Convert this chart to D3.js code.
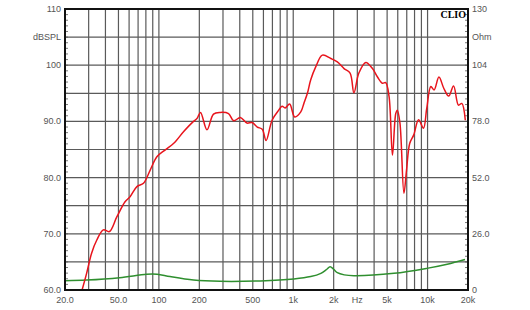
<!DOCTYPE html>
<html lang="en">
<head>
    <meta charset="UTF-8">
    <title>CLIO SPL / Impedance</title>
    <script src="https://d3js.org/d3.v7.min.js"></script>
    <style>
        body {
            margin: 0;
            padding: 0;
            background: #fff;
            font-family: 'Liberation Sans', Arial, sans-serif;
        }
        .lbl {
            font-size: 9px;
            fill: #555;
        }
    </style>
</head>
<body>
    <svg id="chart"></svg>

    <script>
        // SPL curve (Hz, dB)
        const splFreq = [25, 26.8, 29, 31.6, 34.5, 38.6, 42.8, 48.6, 56, 61, 68.6, 76.8, 86, 96.6, 111, 129, 153, 181, 192,
            204, 228, 255, 286, 330, 360, 404, 452, 494, 540, 588, 628, 696, 780, 826, 870, 940, 1026, 1138, 1200,
            1275, 1350, 1470, 1648, 1904, 2130, 2390, 2650, 2830, 3080, 3470, 3890, 4240, 4610, 4880, 5170, 5480,
            5800, 5960, 6230, 6670, 6970, 7370, 7890, 8570, 9320, 9860, 10580, 11180, 12150, 13200, 14360, 15620,
            16980, 17980, 19100];
        const splDb = [57.5, 60, 63.0, 66.6, 68.9, 70.7, 70.4, 73.0, 75.7, 76.6, 78.4, 79.0, 81.3, 83.7, 84.9, 86.1, 88.2, 90.0, 90.5,
            91.6, 88.5, 91.3, 91.6, 91.4, 90.1, 90.7, 89.7, 89.8, 89.0, 88.6, 86.6, 90.2, 92.0, 92.7, 92.4, 93.1, 90.8, 91.7, 93.2,
            95.0, 97.4, 99.7, 101.8, 101.2, 100.6, 99.4, 98.6, 95.1, 98.6, 100.5, 99.4, 97.9, 96.8, 96.9, 94.4, 84.0,
            91.4, 92.0, 89.7, 77.2, 81.3, 86.1, 87.6, 90.3, 88.8, 92.3, 96.2, 95.6, 97.9, 95.9, 94.5, 96.3,
            92.9, 93.2, 90.2];

        // impedance curve (Hz, Ohm)
        const impFreq = [20, 29, 51, 81, 97, 121, 181, 286, 570, 1012, 1350, 1606, 1780, 1880, 2000, 2130, 2400, 2830, 5620, 9860, 14000, 19000];
        const impOhm = [4.3, 4.6, 5.7, 7.3, 7.3, 6.2, 4.6, 4.0, 4.2, 5.1, 6.2, 7.7, 9.6, 10.8, 9.6, 8.0, 7.0, 6.6, 7.7, 10.0, 11.9, 14.1];

        // axis labels
        const dbTicks = [110, 105, 100, 90, 80, 70, 60];
        const dbLabels = ["110", "dBSPL", "100", "90.0", "80.0", "70.0", "60.0"];
        const ohmTicks = [130, 117, 104, 78, 52, 26, 0];
        const ohmLabels = ["130", "Ohm", "104", "78.0", "52.0", "26.0", "0"];
        const freqTicks = [20, 50, 100, 200, 500, 1000, 2000, 3000, 5000, 10000, 20000];
        const freqLabels = ["20.0", "50.0", "100", "200", "500", "1k", "2k", "Hz", "5k", "10k", "20k"];

        const W = 530, H = 310;
        const margin = { top: 9, right: 62, bottom: 20, left: 65 };
        const width = W - margin.left - margin.right;
        const height = H - margin.top - margin.bottom;

        const svg = d3.select("#chart")
            .attr("width", W)
            .attr("height", H)
            .append("g")
            .attr("transform", `translate(${margin.left},${margin.top})`);

        const x = d3.scaleLog().domain([20, 20000]).range([0, width]);
        const y = d3.scaleLinear().domain([60, 110]).range([height, 0]);
        const y2 = d3.scaleLinear().domain([0, 130]).range([height, 0]);

        // vertical grid: every 1..9 x decade
        const gridF = [];
        [10, 100, 1000, 10000].forEach(dec => {
            for (let m = 1; m < 10; m++) {
                const f = dec * m;
                if (f > 20 && f < 20000) gridF.push(f);
            }
        });

        svg.append("g")
            .selectAll("line")
            .data(gridF)
            .join("line")
            .attr("x1", d => x(d)).attr("x2", d => x(d))
            .attr("y1", 0).attr("y2", height)
            .attr("stroke", "#5a5a5a")
            .attr("stroke-width", 1.2);

        svg.append("g")
            .selectAll("line")
            .data(d3.range(65, 110, 5))
            .join("line")
            .attr("x1", 0).attr("x2", width)
            .attr("y1", d => y(d)).attr("y2", d => y(d))
            .attr("stroke", "#5a5a5a")
            .attr("stroke-width", 1.2);

        // minor ticks inside the frame
        svg.append("g")
            .selectAll("line")
            .data(d3.range(60, 111, 1))
            .join("line")
            .attr("x1", 0).attr("x2", 3)
            .attr("y1", d => y(d)).attr("y2", d => y(d))
            .attr("stroke", "#555").attr("stroke-width", 0.8);

        svg.append("g")
            .selectAll("line")
            .data(d3.range(0, 131, 2.6))
            .join("line")
            .attr("x1", width - 3).attr("x2", width)
            .attr("y1", d => y2(d)).attr("y2", d => y2(d))
            .attr("stroke", "#555").attr("stroke-width", 0.8);

        // curves
        svg.append("clipPath").attr("id", "clip")
            .append("rect").attr("width", width).attr("height", height);

        const splData = splFreq.map((f, i) => [f, splDb[i]]);
        const impData = impFreq.map((f, i) => [f, impOhm[i]]);

        svg.append("path")
            .datum(impData)
            .attr("clip-path", "url(#clip)")
            .attr("fill", "none")
            .attr("stroke", "#2f8f2f")
            .attr("stroke-width", 1.5)
            .attr("d", d3.line().x(d => x(d[0])).y(d => y2(d[1])).curve(d3.curveCatmullRom.alpha(0.5)));

        svg.append("path")
            .datum(splData)
            .attr("clip-path", "url(#clip)")
            .attr("fill", "none")
            .attr("stroke", "#e8141c")
            .attr("stroke-width", 1.5)
            .attr("d", d3.line().x(d => x(d[0])).y(d => y(d[1])).curve(d3.curveCatmullRom.alpha(0.5)));

        // frame
        svg.append("rect")
            .attr("width", width).attr("height", height)
            .attr("fill", "none")
            .attr("stroke", "#111")
            .attr("stroke-width", 2);

        // labels
        svg.append("g")
            .selectAll("text")
            .data(dbTicks)
            .join("text")
            .attr("class", "lbl")
            .attr("x", -4)
            .attr("y", d => y(d) + 3)
            .attr("text-anchor", "end")
            .text((d, i) => dbLabels[i]);

        svg.append("g")
            .selectAll("text")
            .data(ohmTicks)
            .join("text")
            .attr("class", "lbl")
            .attr("x", width + 4)
            .attr("y", d => y2(d) + 3)
            .attr("text-anchor", "start")
            .text((d, i) => ohmLabels[i]);

        svg.append("g")
            .selectAll("text")
            .data(freqTicks)
            .join("text")
            .attr("class", "lbl")
            .attr("x", d => x(d))
            .attr("y", height + 13)
            .attr("text-anchor", "middle")
            .text((d, i) => freqLabels[i]);

        svg.append("text")
            .attr("x", width - 2)
            .attr("y", 9)
            .attr("text-anchor", "end")
            .attr("font-family", "'Liberation Serif', 'DejaVu Serif', serif")
            .attr("font-weight", "bold")
            .attr("font-size", "10px")
            .attr("fill", "#000")
            .text("CLIO");
    </script>
</body>
</html>
